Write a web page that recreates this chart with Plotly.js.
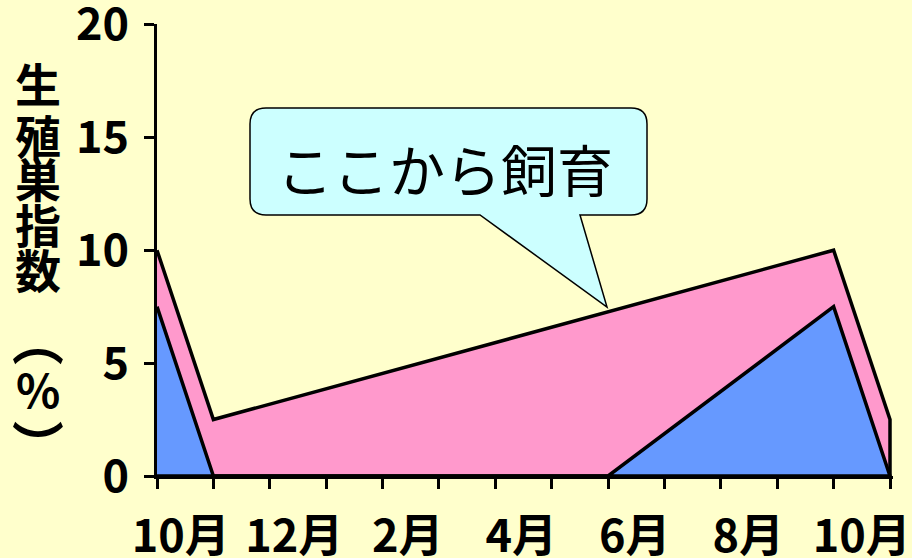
<!DOCTYPE html>
<html>
<head>
<meta charset="utf-8">
<script src="https://cdn.plot.ly/plotly-3.0.1.min.js"></script>
<style>html,body{margin:0;padding:0;background:#FFFFCC;}#chart{width:912px;height:558px;}</style>
</head>
<body>
<div id="chart"></div>
<script>
// ---- data ----
const monthLabels = ['10月', '12月', '2月', '4月', '6月', '8月', '10月'];
const pinkX = [0, 1, 12, 13];
const pinkY = [10, 2.5, 10, 2.5];
const blueX = [0, 1, 8, 12, 13];
const blueY = [7.5, 0, 0, 7.5, 0];
const yTicks = [0, 5, 10, 15, 20];
const yTitleChars = ['生', '殖', '巣', '指', '数', '（', '%', '）'];
const calloutText = 'ここから飼育';

// ---- layout constants ----
const W = 912, H = 558;
const UNIT = 733 / 13;              // pixels per x step
const XMAX = 13 + 3 / UNIT;         // small extra so the right edge stroke is not clipped
const YMAX = 20.02;
const M = {l: 157, r: W - 157 - Math.round(XMAX * UNIT), t: 24, b: 82, pad: 0};
const plotW = W - M.l - M.r, plotH = H - M.t - M.b;
const px2x = p => (p - M.l) / plotW * XMAX;
const py2y = p => (H - M.b - p) / plotH * YMAX;
const px2paper = p => (p - M.l) / plotW;
const py2paper = p => (H - M.b - p) / plotH;
const labelPos = monthLabels.map((_, i) => 0.42 + i * 2.013);

const FONT = '"Noto Sans CJK JP", "Noto Sans", sans-serif';

function closed(xs, ys) {
  return {x: xs.concat([xs[xs.length - 1], xs[0]]), y: ys.concat([0, 0])};
}
const pinkPoly = closed(pinkX, pinkY);
const bluePoly = {x: blueX.concat([blueX[0]]), y: blueY.concat([0])};

const traces = [
  {x: pinkPoly.x, y: pinkPoly.y, type: 'scatter', mode: 'lines', fill: 'toself',
   fillcolor: '#FF99CC', line: {color: '#000', width: 3.5}, hoverinfo: 'skip'},
  {x: bluePoly.x, y: bluePoly.y, type: 'scatter', mode: 'lines', fill: 'toself',
   fillcolor: '#6699FF', line: {color: '#000', width: 3.5}, hoverinfo: 'skip'}
];

// callout balloon path (pixel geometry converted to data units)
const B = {x0: 250, x1: 647, y0: 108, y1: 215, r: 16, t0: 480, t1: 580, tipx: 607, tipy: 307};
const P = (a, b) => px2x(a).toFixed(4) + ',' + py2y(b).toFixed(4);
const balloonPath = [
  'M', P(B.x0 + B.r, B.y0), 'L', P(B.x1 - B.r, B.y0),
  'Q', P(B.x1, B.y0), P(B.x1, B.y0 + B.r), 'L', P(B.x1, B.y1 - B.r),
  'Q', P(B.x1, B.y1), P(B.x1 - B.r, B.y1), 'L', P(B.t1, B.y1),
  'L', P(B.tipx, B.tipy), 'L', P(B.t0, B.y1), 'L', P(B.x0 + B.r, B.y1),
  'Q', P(B.x0, B.y1), P(B.x0, B.y1 - B.r), 'L', P(B.x0, B.y0 + B.r),
  'Q', P(B.x0, B.y0), P(B.x0 + B.r, B.y0), 'Z'
].join(' ');

// vertical y-axis title, one character per annotation (parentheses turned to vertical form)
const titleY = [82, 134, 177, 223, 268, 340, 388, 445];
const annotations = yTitleChars.map((c, i) => {
  const paren = (c === '（' || c === '）');
  return {
    text: c, xref: 'paper', yref: 'paper',
    x: px2paper(paren ? 40.5 : 38), y: py2paper(titleY[i]),
    xanchor: 'center', yanchor: 'middle', showarrow: false,
    textangle: paren ? 90 : 0,
    font: {family: FONT, size: paren ? 52 : 46, weight: 'bold', color: '#000'}
  };
});
annotations.push({
  text: calloutText, xref: 'x', yref: 'y', x: px2x(445), y: py2y(167),
  xanchor: 'center', yanchor: 'middle', showarrow: false,
  font: {family: FONT, size: 56, color: '#000'}
});

const layout = {
  width: W, height: H, margin: M,
  paper_bgcolor: '#FFFFCC', plot_bgcolor: '#FFFFCC',
  showlegend: false,
  xaxis: {
    range: [0, XMAX], fixedrange: true,
    tickmode: 'array', tickvals: labelPos, ticktext: monthLabels, ticks: '',
    ticklabelstandoff: 19, ticklabeloverflow: 'allow',
    tickfont: {family: FONT, size: 45, weight: 'bold', color: '#000'},
    minor: {tickmode: 'linear', tick0: 0, dtick: 1, ticks: 'outside', ticklen: 10, tickwidth: 3, tickcolor: '#000', showgrid: false},
    showline: true, linecolor: '#000', linewidth: 3,
    showgrid: false, zeroline: false
  },
  yaxis: {
    range: [0, YMAX], fixedrange: true, tickmode: 'array', tickvals: yTicks,
    ticks: 'outside', ticklen: 10, tickwidth: 3, tickcolor: '#000',
    ticklabelstandoff: 6, ticklabeloverflow: 'allow',
    tickfont: {family: FONT, size: 45, weight: 'bold', color: '#000'},
    showline: true, linecolor: '#000', linewidth: 3,
    showgrid: false, zeroline: false
  },
  shapes: [{type: 'path', xref: 'x', yref: 'y', path: balloonPath,
    fillcolor: '#CCFFFF', line: {color: '#000', width: 1.5}, layer: 'above'}],
  annotations: annotations
};

Plotly.newPlot('chart', traces, layout, {displayModeBar: false, staticPlot: true});
</script>
</body>
</html>
